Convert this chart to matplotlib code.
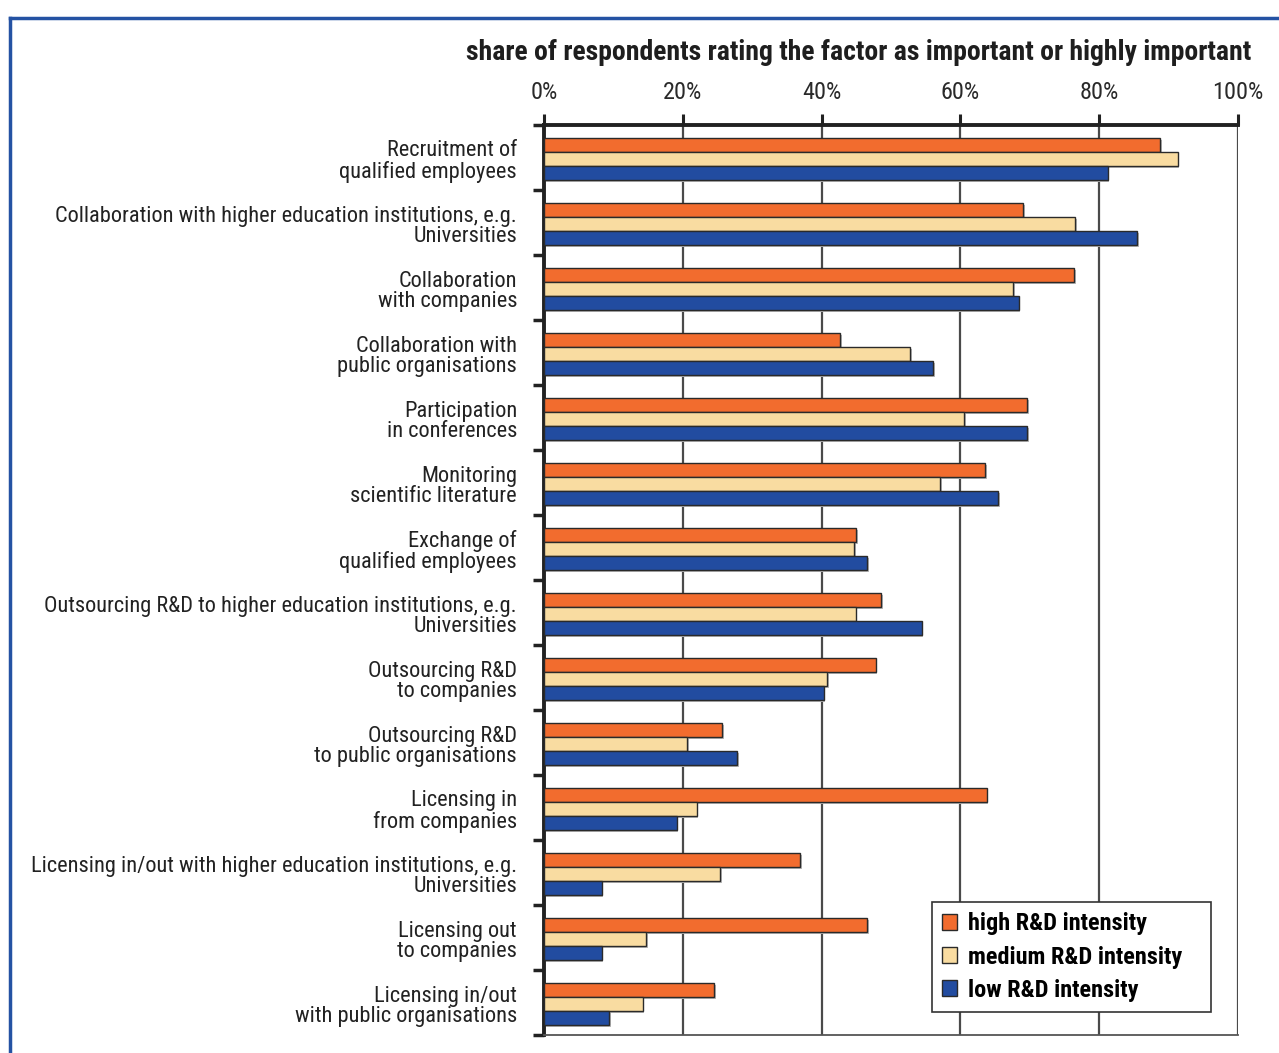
import matplotlib
matplotlib.use("Agg")
import matplotlib.pyplot as plt
import matplotlib.patheffects as pe
from matplotlib.patches import Patch
from matplotlib.lines import Line2D
import numpy as np

COND = ["Liberation Sans Narrow", "DejaVu Sans Condensed", "Roboto Condensed", "Liberation Sans", "DejaVu Sans"]
plt.rcParams["font.family"] = COND

categories = [
    "Recruitment of\nqualified employees",
    "Collaboration with higher education institutions, e.g.\nUniversities",
    "Collaboration\nwith companies",
    "Collaboration with\npublic organisations",
    "Participation\nin conferences",
    "Monitoring\nscientific literature",
    "Exchange of\nqualified employees",
    "Outsourcing R&D to higher education institutions, e.g.\nUniversities",
    "Outsourcing R&D\nto companies",
    "Outsourcing R&D\nto public organisations",
    "Licensing in\nfrom companies",
    "Licensing in/out with higher education institutions, e.g.\nUniversities",
    "Licensing out\nto companies",
    "Licensing in/out\nwith public organisations",
]
high = [88.8, 69.0, 76.4, 42.7, 69.6, 63.6, 45.0, 48.6, 47.8, 25.7, 63.8, 36.9, 46.6, 24.5]
medium = [91.3, 76.5, 67.6, 52.8, 60.5, 57.1, 44.7, 44.9, 40.8, 20.6, 22.0, 25.4, 14.7, 14.2]
low = [81.2, 85.5, 68.4, 56.1, 69.6, 65.4, 46.6, 54.4, 40.3, 27.8, 19.1, 8.3, 8.3, 9.4]
series_names = ["high R&D intensity", "medium R&D intensity", "low R&D intensity"]
tick_values = [0, 20, 40, 60, 80, 100]
tick_labels = ["0%", "20%", "40%", "60%", "80%", "100%"]

colors = ["#F26C2E", "#F9DCA1", "#224CA0"]
edge = "#2a2a2a"

W, H = 1279, 1053
fig = plt.figure(figsize=(W / 100, H / 100), dpi=100)
ax = fig.add_axes([544 / W, 1 - 1035 / H, (1238 - 544) / W, (1035 - 125) / H])

y = np.arange(len(categories))
bh = 0.215
shadow = [pe.SimplePatchShadow(offset=(1.2, -1.2), shadow_rgbFace="#b8b8b8", alpha=1.0), pe.Normal()]
for k, (vals, c) in enumerate(zip([high, medium, low], colors)):
    bars = ax.barh(y + 0.03 + (k - 1) * bh, vals, height=bh, color=c, edgecolor=edge,
                   linewidth=1.0, zorder=3, label=series_names[k])
    for b in bars:
        b.set_path_effects(shadow)

ax.set_xlim(0, 100)
ax.set_ylim(len(categories) - 0.5, -0.5)

# vertical gridlines
for v in tick_values[1:]:
    ax.axvline(v, color="#4a4a4a", lw=1.6, zorder=1)

ax.xaxis.tick_top()
ax.set_xticks(tick_values)
ax.set_xticklabels(tick_labels, fontsize=17.5, color="#2a2a2a")
ax.tick_params(axis="x", direction="out", length=8, width=2.2, color="#222222", pad=7)

ax.set_yticks(np.arange(len(categories) + 1) - 0.5, minor=False)
ax.set_yticklabels([])
ax.tick_params(axis="y", direction="out", length=8, width=2.5, color="#222222")
for i, lab in enumerate(categories):
    ax.text(-27 / 6.94, i + 0.06, lab, ha="right", va="center", fontsize=16.1,
            color="#222222", linespacing=0.98)

for s in ["top", "left"]:
    ax.spines[s].set_linewidth(2.8)
    ax.spines[s].set_color("#222222")
ax.spines["right"].set_visible(False)
ax.spines["bottom"].set_linewidth(1.3)
ax.spines["bottom"].set_color("#555555")

fig.text(1251 / W, 1 - 52 / H, "share of respondents rating the factor as important or highly important",
         ha="right", va="center", fontsize=20, fontweight="bold", color="#1e1e1e")

# legend box spans a fixed width in the lower right corner
lx0, lx1, ly1 = 932, 1211, 1012
handles = [Patch(facecolor=c, edgecolor=edge, linewidth=1.0) for c in colors]
leg = ax.legend(handles, series_names, loc="lower left", mode="expand",
                bbox_to_anchor=((lx0 - 544) / 694, (1035 - ly1) / 910, (lx1 - lx0) / 694, 0.1),
                borderaxespad=0, frameon=True, fancybox=False, edgecolor="#333333", framealpha=1,
                prop={"size": 17.5, "weight": "bold"}, handlelength=0.62, handleheight=0.62,
                handletextpad=0.45, labelspacing=0.42, borderpad=0.42)
leg.get_frame().set_linewidth(1.2)
leg.set_zorder(5)

# outer blue frame
frame_c = "#2452A3"
fig.add_artist(Line2D([10 / W, 10 / W], [0, 1 - 18 / H], color=frame_c, lw=2.5, transform=fig.transFigure))
fig.add_artist(Line2D([10 / W, 1], [1 - 18 / H, 1 - 18 / H], color=frame_c, lw=2.5, transform=fig.transFigure))

fig.savefig("out.png", dpi=100)
